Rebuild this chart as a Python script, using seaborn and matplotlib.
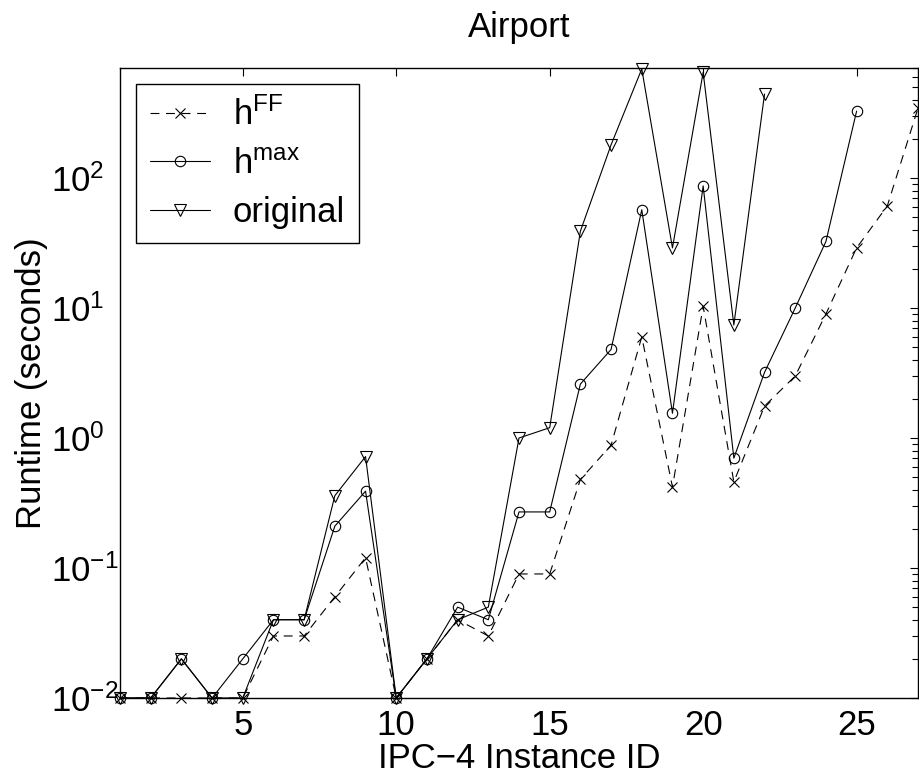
import numpy as np
import pandas as pd
import matplotlib
matplotlib.use("Agg")
import matplotlib.pyplot as plt
import seaborn as sns
from matplotlib.ticker import FixedLocator, LogLocator, NullFormatter

# ---- data ----
ids_ff = list(range(1, 28))
h_ff = [0.01, 0.01, 0.01, 0.01, 0.01, 0.03, 0.03, 0.06, 0.12, 0.01,
        0.02, 0.04, 0.03, 0.09, 0.09, 0.48, 0.88, 6.0, 0.42, 10.3,
        0.46, 1.76, 3.0, 9.0, 29.0, 61.0, 345.0]
ids_max = list(range(1, 26))
h_max = [0.01, 0.01, 0.02, 0.01, 0.02, 0.04, 0.04, 0.21, 0.39, 0.01,
         0.02, 0.05, 0.04, 0.27, 0.27, 2.6, 4.8, 57.0, 1.55, 87.0,
         0.70, 3.2, 10.0, 32.5, 327.0]
ids_orig = list(range(1, 23))
h_orig = [0.01, 0.01, 0.02, 0.01, 0.01, 0.04, 0.04, 0.36, 0.72, 0.01,
          0.02, 0.04, 0.05, 1.0, 1.2, 39.0, 180.0, 690.0, 29.0, 650.0,
          7.4, 443.0]

labels = [r"$\mathregular{h^{FF}}$", r"$\mathregular{h^{max}}$", "original"]
title = "Airport"
xlabel = "IPC\u22124 Instance ID"
ylabel = "Runtime (seconds)"
xticks = [5, 10, 15, 20, 25]

# ---- style ----
sns.set_style("white")
plt.rcParams["font.family"] = ["Liberation Sans", "DejaVu Sans"]
plt.rcParams["mathtext.fontset"] = "custom"
plt.rcParams["mathtext.rm"] = "Liberation Sans"
plt.rcParams["mathtext.default"] = "regular"
plt.rcParams["text.color"] = "black"
plt.rcParams["axes.labelcolor"] = "black"
plt.rcParams["xtick.color"] = "black"
plt.rcParams["ytick.color"] = "black"

fig = plt.figure(figsize=(9.2, 7.76), dpi=100)
ax = fig.add_axes([120 / 920, 1 - 698 / 776, 798 / 920, 630 / 776])

series = [
    (ids_ff, h_ff, labels[0], "x", (0, (8, 6)), 6.5),
    (ids_max, h_max, labels[1], "o", "-", 7.5),
    (ids_orig, h_orig, labels[2], "v", "-", 8),
]
for xs, ys, lab, mk, ls, ms in series:
    df = pd.DataFrame({"x": xs, "y": ys})
    sns.lineplot(data=df, x="x", y="y", ax=ax, color="black", lw=0.8,
                 linestyle=ls, marker=mk, markersize=ms, mfc="none",
                 mec="black", mew=0.8, label=lab, estimator=None,
                 clip_on=False)

ax.set_yscale("log")
ax.set_xlim(1, 27)
ax.set_ylim(0.01, 702)
ax.xaxis.set_major_locator(FixedLocator(xticks))
ax.set_xticklabels([str(t) for t in xticks])
ax.yaxis.set_major_locator(LogLocator(base=10, numticks=10))
ax.yaxis.set_minor_locator(LogLocator(base=10, subs=np.arange(2, 10), numticks=100))
ax.yaxis.set_minor_formatter(NullFormatter())

for sp in ax.spines.values():
    sp.set_visible(True)
    sp.set_color("black")
    sp.set_linewidth(1.0)

ax.tick_params(axis="both", which="both", direction="in", top=True,
               right=True, colors="black", labelcolor="black",
               labelsize=25, width=0.8)
ax.tick_params(axis="both", which="major", length=6)
ax.tick_params(axis="y", which="minor", length=4)
ax.tick_params(axis="x", which="major", pad=8)
ax.tick_params(axis="y", which="major", pad=50)
for lbl in ax.get_yticklabels():
    lbl.set_horizontalalignment("left")

ax.set_title(title, fontsize=25, pad=22, color="black")
ax.set_xlabel(xlabel, fontsize=25, labelpad=0, color="black")
ax.set_ylabel(ylabel, fontsize=25, labelpad=2, color="black")

leg = ax.legend(loc="upper left", fontsize=25, frameon=True, fancybox=False,
                edgecolor="black", framealpha=1, borderaxespad=0.45,
                handlelength=1.75, handletextpad=0.65, labelspacing=0.45,
                borderpad=0.4)
leg.get_frame().set_linewidth(1.0)
for t in leg.get_texts():
    t.set_color("black")

fig.savefig("out.png", dpi=100)
